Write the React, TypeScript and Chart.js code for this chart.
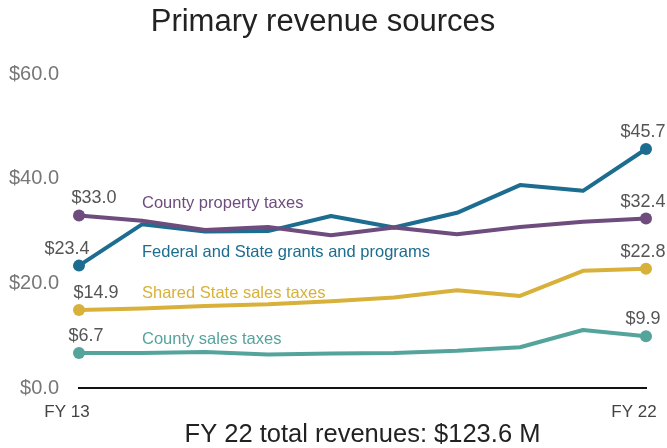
import React, { useEffect, useRef } from "react";
import { Chart, registerables } from "chart.js";

Chart.register(...registerables);

const FONT = "'Liberation Sans', Arial, Helvetica, sans-serif";

const years = ["FY 13", "FY 14", "FY 15", "FY 16", "FY 17", "FY 18", "FY 19", "FY 20", "FY 21", "FY 22"];
const countyProperty = [33.0, 32.0, 30.2, 30.8, 29.2, 30.7, 29.4, 30.8, 31.8, 32.4];
const federalState = [23.4, 31.3, 29.9, 30.0, 32.9, 30.7, 33.5, 38.8, 37.7, 45.7];
const sharedState = [14.9, 15.2, 15.7, 16.0, 16.6, 17.3, 18.7, 17.6, 22.4, 22.8];
const countySales = [6.7, 6.7, 6.9, 6.4, 6.6, 6.7, 7.1, 7.8, 11.1, 9.9];
const yTicks = [0, 20, 40, 60];
const titleText = "Primary revenue sources";
const footerText = "FY 22 total revenues: $123.6 M";

const labelPlugin = {
  id: "seriesLabels",
  afterDatasetsDraw(chart: any) {
    const ctx = chart.ctx;
    const xs = chart.scales.x;
    const ys = chart.scales.y;
    chart.data.datasets.forEach((ds: any, i: number) => {
      const pts = chart.getDatasetMeta(i).data;
      const last = pts.length - 1;
      ctx.save();
      ctx.font = `18px ${FONT}`;
      ctx.fillStyle = "#555555";
      ctx.textAlign = "center";
      ctx.textBaseline = "middle";
      [0, last].forEach((idx, k) => {
        const p = pts[idx];
        const dx = k === 0 ? ds.firstDx : ds.lastDx;
        ctx.fillText("$" + Number(ds.data[idx]).toFixed(1), p.x + dx, p.y - 17);
      });
      ctx.font = `16.5px ${FONT}`;
      ctx.fillStyle = ds.borderColor;
      ctx.textAlign = "left";
      ctx.textBaseline = "alphabetic";
      ctx.fillText(ds.label, xs.getPixelForValue(1), ys.getPixelForValue(ds.nameAt));
      ctx.restore();
    });
  },
};

function makeSeries(label: string, data: number[], color: string, firstDx: number, nameAt: number) {
  const last = data.length - 1;
  return {
    label,
    data,
    borderColor: color,
    backgroundColor: color,
    pointBackgroundColor: color,
    pointBorderColor: color,
    borderWidth: 4,
    tension: 0,
    borderJoinStyle: "round",
    borderCapStyle: "round",
    pointRadius: (c: any) => (c.dataIndex === 0 || c.dataIndex === last ? 6 : 0),
    pointHoverRadius: 0,
    pointBorderWidth: 0,
    firstDx,
    lastDx: -3,
    nameAt,
  };
}

export default function App() {
  const ref = useRef<HTMLCanvasElement | null>(null);
  useEffect(() => {
    if (!ref.current) return;
    const chart = new Chart(ref.current, {
      type: "line",
      data: {
        labels: years,
        datasets: [
          makeSeries("County property taxes", countyProperty, "#6e4c7e", 15, 34.5),
          makeSeries("Federal and State grants and programs", federalState, "#1c6d8f", -12, 25.1),
          makeSeries("Shared State sales taxes", sharedState, "#d8b13a", 17, 17.3),
          makeSeries("County sales taxes", countySales, "#54a49c", 7, 8.5),
        ] as any,
      },
      options: {
        animation: false,
        responsive: true,
        maintainAspectRatio: false,
        layout: { padding: { left: 0, right: 21, top: 0, bottom: 0 } },
        plugins: {
          legend: { display: false },
          tooltip: { enabled: false },
          title: {
            display: true,
            text: titleText,
            color: "#222222",
            font: { family: FONT, size: 31, weight: "normal" as any, lineHeight: 1.2 },
            padding: { top: 4, bottom: 33 },
          },
        },
        scales: {
          x: {
            type: "category",
            offset: false,
            grid: { display: false, drawTicks: false },
            border: { display: true, color: "#111111", width: 2 },
            afterFit: (s: any) => {
              s.height = 60;
              s.paddingLeft = 0;
              s.paddingRight = 0;
            },
            ticks: {
              autoSkip: false,
              maxRotation: 0,
              padding: 14,
              labelOffset: -12,
              color: "#444444",
              font: { family: FONT, size: 17 },
              callback: (_v: any, idx: number) =>
                idx === 0 || idx === years.length - 1 ? years[idx] : null,
            },
            title: {
              display: true,
              text: footerText,
              color: "#222222",
              font: { family: FONT, size: 25.5, lineHeight: 1.0 },
              padding: { top: 0, bottom: 0 },
            },
          },
          y: {
            min: 0,
            max: 60,
            grid: { display: false, drawTicks: false },
            border: { display: false },
            afterFit: (s: any) => {
              s.width = 79;
            },
            afterBuildTicks: (s: any) => {
              s.ticks = yTicks.map((v) => ({ value: v }));
            },
            ticks: {
              padding: 20,
              color: "#777777",
              font: { family: FONT, size: 20 },
              callback: (v: any) => "$" + Number(v).toFixed(1),
            },
          },
        },
      },
      plugins: [labelPlugin],
    });
    return () => chart.destroy();
  }, []);
  return (
    <div style={{ position: "fixed", left: 0, top: 0, width: 667, height: 448, background: "#ffffff" }}>
      <canvas ref={ref} />
    </div>
  );
}
